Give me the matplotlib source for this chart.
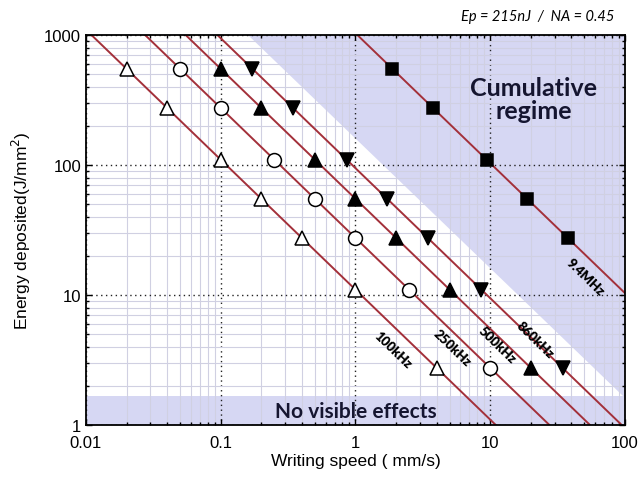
import matplotlib
matplotlib.use("Agg")
import matplotlib.pyplot as plt
import numpy as np

# energy levels shared by the pulse-rate series (J/mm^2)
energies = [550, 275, 110, 55, 27.5, 11, 2.75]

speed_100k = [0.02, 0.04, 0.1, 0.2, 0.4, 1, 4]
speed_250k = [0.05, 0.1, 0.25, 0.5, 1, 2.5, 10]
speed_500k = [0.1, 0.2, 0.5, 1, 2, 5, 20]
speed_860k = [0.172, 0.344, 0.86, 1.72, 3.44, 8.6, 34.4]

speed_9m4 = [1.88, 3.76, 9.4, 18.8, 37.6]
energy_9m4 = [550, 275, 110, 55, 27.5]

rate_labels = ["100kHz", "250kHz", "500kHz", "860kHz", "9.4MHz"]
label_pos = [(1.9, 3.84), (5.2, 3.98), (11.2, 4.2), (21.5, 4.58), (50.5, 14.0)]

# rough outline of the shaded "cumulative" region
cum_v = [0.16, 100, 100, 96]
cum_e = [1000, 1000, 1.67, 1.67]
no_effect_top = 1.67

LINE_COLOR = "#a3303a"
SHADE = "#d6d7f3"
TEXT_FONT = ["Lato", "DejaVu Sans"]

fig = plt.figure(figsize=(6.43, 4.81), dpi=100)
ax = fig.add_axes([0.1337, 0.1143, 0.972 - 0.1337, 0.925 - 0.1143])
ax.set_xscale("log")
ax.set_yscale("log")
ax.set_xlim(0.01, 100)
ax.set_ylim(1, 1000)

# background regions
ax.fill(cum_v, cum_e, color=SHADE, lw=0, zorder=0.1)
ax.axhspan(1, no_effect_top, color=SHADE, lw=0, zorder=0.1)

# grids
ax.set_axisbelow(True)
ax.grid(which="minor", color="#d0d0e2", lw=0.8, ls="-")
ax.grid(which="major", color="#222222", lw=1.0, ls=(0, (1, 2.5)))

v_line = np.array([0.01, 100])
series = [
    (speed_100k, energies, "^", "white"),
    (speed_250k, energies, "o", "white"),
    (speed_500k, energies, "^", "black"),
    (speed_860k, energies, "v", "black"),
    (speed_9m4, energy_9m4, "s", "black"),
]
for speeds, ens, marker, face in series:
    k = speeds[0] * ens[0]
    ax.plot(v_line, k / v_line, color=LINE_COLOR, lw=1.4, zorder=2)
    size = 8.5 if marker == "s" else 10
    ax.plot(speeds, ens, ls="none", marker=marker, ms=size, mfc=face,
            mec="black", mew=1.1, zorder=3)

for text, (x, y) in zip(rate_labels, label_pos):
    ax.text(x, y, text, rotation=-44, ha="center", va="center",
            fontsize=9.5, fontweight="heavy", family=TEXT_FONT, zorder=4)

ax.text(21, 322, "Cumulative\nregime", ha="center", va="center",
        fontsize=18, fontweight="bold", family=TEXT_FONT, color="#151530",
        linespacing=1.0, zorder=4)
ax.text(1.0, 1.29, "No visible effects", ha="center", va="center",
        fontsize=15, fontweight="bold", family=TEXT_FONT, color="#151530",
        zorder=4)

ax.tick_params(which="both", direction="in", top=True, right=True,
               labelsize=12, width=1.0)
ax.tick_params(which="major", length=4)
ax.tick_params(which="minor", length=2.5)
ax.tick_params(axis="x", pad=7)
ax.set_xticks([0.01, 0.1, 1, 10, 100])
ax.set_xticklabels(["0.01", "0.1", "1", "10", "100"])
ax.set_yticks([1, 10, 100, 1000])
ax.set_yticklabels(["1", "10", "100", "1000"])
for lab in ax.get_xticklabels() + ax.get_yticklabels():
    lab.set_family("Liberation Sans")
for spine in ax.spines.values():
    spine.set_linewidth(1.3)

ax.set_xlabel("Writing speed ( mm/s)", fontsize=12.5, family="Liberation Sans",
              labelpad=2)
ax.set_ylabel("Energy deposited(J/mm$^2$)", fontsize=12.5,
              family="Liberation Sans", labelpad=8)

fig.text(0.955, 0.965, "Ep = 215nJ  /  NA = 0.45", ha="right", va="center",
         fontsize=10.5, style="italic", family=TEXT_FONT)

fig.savefig("out.png", dpi=100)
